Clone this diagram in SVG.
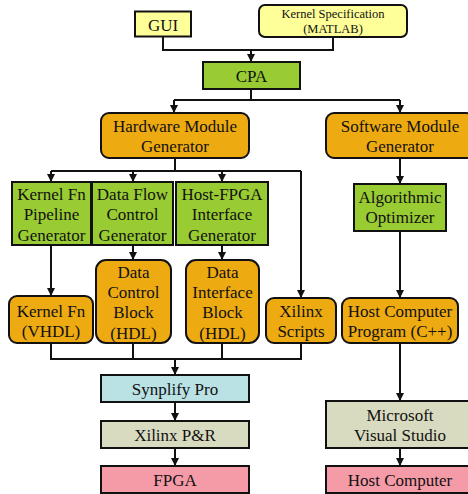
<svg xmlns="http://www.w3.org/2000/svg" width="468" height="494" viewBox="0 0 468 494">
<defs>
<marker id="ah" viewBox="0 0 8 8" refX="8" refY="4" markerWidth="8" markerHeight="8" markerUnits="userSpaceOnUse" orient="auto">
<path d="M0,0 L8,4 L0,8 z" fill="#111"/>
</marker>
<style>
.b{stroke:#111;stroke-width:2}
.y{fill:#FFFF99}
.g{fill:#99CC33}
.o{fill:#EEAA11}
.c{fill:#BAE1E4}
.k{fill:#D9DBC0}
.p{fill:#F59BA8}
text{font-family:"Liberation Serif","Times New Roman",serif;font-size:17px;fill:#111;text-anchor:middle}
.s{font-size:12.5px}
.w{fill:none;stroke:#111;stroke-width:2}
</style>
</defs>
<g id="connectors">
<path class="w" d="M163,37 V50 H333 V37"/>
<path class="w" d="M251,50 V62" marker-end="url(#ah)"/>
<path class="w" d="M251,89 V100 M174,100 H400"/>
<path class="w" d="M174,100 V113" marker-end="url(#ah)"/>
<path class="w" d="M400,100 V113" marker-end="url(#ah)"/>
<path class="w" d="M175,158 V171 M51,171 H301"/>
<path class="w" d="M51,171 V182" marker-end="url(#ah)"/>
<path class="w" d="M133,171 V182" marker-end="url(#ah)"/>
<path class="w" d="M222,171 V182" marker-end="url(#ah)"/>
<path class="w" d="M301,171 V298" marker-end="url(#ah)"/>
<path class="w" d="M400,158 V184" marker-end="url(#ah)"/>
<path class="w" d="M51,245 V296" marker-end="url(#ah)"/>
<path class="w" d="M133,245 V260" marker-end="url(#ah)"/>
<path class="w" d="M222,245 V260" marker-end="url(#ah)"/>
<path class="w" d="M400,231 V298" marker-end="url(#ah)"/>
<path class="w" d="M51,343 V359 H301 V343 M133,343 V359 M222,343 V359"/>
<path class="w" d="M175,359 V375" marker-end="url(#ah)"/>
<path class="w" d="M175,402 V421" marker-end="url(#ah)"/>
<path class="w" d="M175,448 V466" marker-end="url(#ah)"/>
<path class="w" d="M400,343 V401" marker-end="url(#ah)"/>
<path class="w" d="M400,448 V466" marker-end="url(#ah)"/>
</g>
<g id="gui"><rect class="b y" x="135" y="11.5" width="56" height="25"/><text x="163" y="30.5">GUI</text></g>
<g id="kernelspec"><rect class="b y" x="259" y="5" width="148" height="32" rx="6"/><text class="s" x="333" y="18">Kernel Specification</text><text class="s" x="333" y="33">(MATLAB)</text></g>
<g id="cpa"><rect class="b g" x="203" y="62" width="97" height="27"/><text x="251.5" y="81.5">CPA</text></g>
<g id="hwgen"><rect class="b o" x="101" y="113" width="148" height="45" rx="8"/><text x="175" y="131.5">Hardware Module</text><text x="175" y="152">Generator</text></g>
<g id="swgen"><rect class="b o" x="326" y="113" width="148" height="45" rx="8"/><text x="400" y="131.5">Software Module</text><text x="400" y="152">Generator</text></g>
<g id="kfpipe"><rect class="b g" x="12" y="182" width="79" height="63"/><text x="51.5" y="199.5">Kernel Fn</text><text x="51.5" y="220">Pipeline</text><text x="51.5" y="240.5">Generator</text></g>
<g id="dfc"><rect class="b g" x="92" y="182" width="81" height="63"/><text x="132.5" y="199.5">Data Flow</text><text x="132.5" y="220">Control</text><text x="132.5" y="240.5">Generator</text></g>
<g id="hfig"><rect class="b g" x="176" y="182" width="92" height="63"/><text x="222" y="199.5">Host-FPGA</text><text x="222" y="220">Interface</text><text x="222" y="240.5">Generator</text></g>
<g id="algo"><rect class="b g" x="354" y="184" width="92" height="47"/><text x="400" y="202.5">Algorithmic</text><text x="400" y="223">Optimizer</text></g>
<g id="kfvhdl"><rect class="b o" x="9" y="296" width="84" height="47" rx="8"/><text x="51" y="316.5">Kernel Fn</text><text x="51" y="337">(VHDL)</text></g>
<g id="dcb"><rect class="b o" x="96" y="260" width="75" height="83" rx="10"/><text x="133.5" y="277.5">Data</text><text x="133.5" y="297.5">Control</text><text x="133.5" y="318">Block</text><text x="133.5" y="338.5">(HDL)</text></g>
<g id="dib"><rect class="b o" x="186" y="260" width="73" height="83" rx="10"/><text x="222.5" y="277.5">Data</text><text x="222.5" y="297.5">Interface</text><text x="222.5" y="318">Block</text><text x="222.5" y="338.5">(HDL)</text></g>
<g id="xscripts"><rect class="b o" x="266" y="298" width="70" height="45" rx="8"/><text x="301" y="316.5">Xilinx</text><text x="301" y="337">Scripts</text></g>
<g id="hcp"><rect class="b o" x="342" y="298" width="116" height="45" rx="8"/><text x="400" y="316.5">Host Computer</text><text x="400" y="337">Program (C++)</text></g>
<g id="synplify"><rect class="b c" x="101" y="375" width="148" height="27"/><text x="175" y="394.5">Synplify Pro</text></g>
<g id="xpr"><rect class="b k" x="101" y="421" width="148" height="27"/><text x="175" y="441">Xilinx P&amp;R</text></g>
<g id="fpga"><rect class="b p" x="101" y="466" width="148" height="27"/><text x="175" y="486">FPGA</text></g>
<g id="msvs"><rect class="b k" x="326" y="401" width="148" height="47"/><text x="400" y="420.5">Microsoft</text><text x="400" y="440.5">Visual Studio</text></g>
<g id="hostc"><rect class="b p" x="326" y="466" width="148" height="27"/><text x="400" y="486">Host Computer</text></g>
</svg>
